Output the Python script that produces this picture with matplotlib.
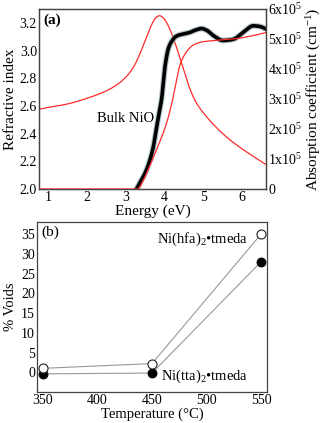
import numpy as np
import matplotlib
matplotlib.use('Agg')
import matplotlib.pyplot as plt

plt.rcParams['font.family'] = 'Liberation Serif'
plt.rcParams['mathtext.fontset'] = 'custom'
plt.rcParams['mathtext.rm'] = 'Liberation Serif'
plt.rcParams['mathtext.it'] = 'Liberation Serif:italic'

# (a) bulk NiO - measured absorption (thick black), right axis, 1e5 cm^-1
abs_meas_E = [3.27, 3.40, 3.53, 3.69, 3.81, 3.92, 4.01, 4.09, 4.14, 4.31, 4.65, 4.80, 4.95, 5.10, 5.25, 5.51, 5.77, 6.03, 6.29, 6.45, 6.63]
abs_meas_a = [0.0, 0.3, 0.64, 1.31, 2.2, 3.0, 4.1, 4.66, 4.83, 5.1, 5.22, 5.30, 5.35, 5.28, 5.12, 4.95, 4.99, 5.22, 5.44, 5.42, 5.33]

# refractive index (red), left axis
n_E = [0.75, 1.0, 1.5, 2.0, 2.5, 2.8, 3.02, 3.27, 3.45, 3.62, 3.75, 3.88, 4.01, 4.14, 4.31, 4.48, 4.70, 5.0, 5.5, 6.0, 6.6]
n_val = [2.576, 2.59, 2.615, 2.656, 2.71, 2.76, 2.815, 2.92, 3.04, 3.16, 3.23, 3.251, 3.22, 3.15, 3.02, 2.87, 2.69, 2.55, 2.40, 2.29, 2.18]

# modelled absorption (red), right axis, 1e5 cm^-1
abs_fit_E = [0.75, 3.3, 3.45, 3.57, 3.79, 4.05, 4.2, 4.3, 4.4, 4.55, 4.74, 4.95, 5.2, 5.5, 5.77, 6.2, 6.63]
abs_fit_a = [0.0, 0.0, 0.3, 0.64, 1.31, 2.2, 2.95, 3.6, 4.15, 4.55, 4.8, 4.9, 4.94, 4.97, 5.0, 5.09, 5.22]

# (b) voids vs temperature
temps = [350, 450, 550]
voids_hfa = [1.0, 2.2, 35.0]
voids_tta = [-0.4, -0.2, 28.0]


def pchip(x, y, n=400):
    # monotone cubic interpolation, just for drawing smooth curves
    x = np.asarray(x, float)
    y = np.asarray(y, float)
    h = np.diff(x)
    d = np.diff(y) / h
    m = np.zeros_like(y)
    for i in range(1, len(y) - 1):
        if d[i - 1] * d[i] > 0:
            w1 = 2 * h[i] + h[i - 1]
            w2 = h[i] + 2 * h[i - 1]
            m[i] = (w1 + w2) / (w1 / d[i - 1] + w2 / d[i])
    m[0] = d[0]
    m[-1] = d[-1]
    return hermite(x, y, m, n)


def spline(x, y, n=400):
    # natural cubic spline slopes
    x = np.asarray(x, float)
    y = np.asarray(y, float)
    N = len(x)
    h = np.diff(x)
    A = np.zeros((N, N))
    b = np.zeros(N)
    A[0, 0] = A[-1, -1] = 1
    for i in range(1, N - 1):
        A[i, i - 1] = h[i - 1]
        A[i, i] = 2 * (h[i - 1] + h[i])
        A[i, i + 1] = h[i]
        b[i] = 3 * ((y[i + 1] - y[i]) / h[i] - (y[i] - y[i - 1]) / h[i - 1])
    c = np.linalg.solve(A, b)
    m = np.zeros(N)
    for i in range(N - 1):
        m[i] = (y[i + 1] - y[i]) / h[i] - h[i] * (2 * c[i] + c[i + 1]) / 3
    m[-1] = (y[-1] - y[-2]) / h[-1] + h[-1] * (c[-2] + 2 * c[-1]) / 3
    return hermite(x, y, m, n)


def hermite(x, y, m, n):
    h = np.diff(x)
    xs = np.linspace(x[0], x[-1], n)
    k = np.clip(np.searchsorted(x, xs) - 1, 0, len(x) - 2)
    t = (xs - x[k]) / h[k]
    h00 = 2 * t**3 - 3 * t**2 + 1
    h10 = t**3 - 2 * t**2 + t
    h01 = -2 * t**3 + 3 * t**2
    h11 = t**3 - t**2
    ys = h00 * y[k] + h10 * h[k] * m[k] + h01 * y[k + 1] + h11 * h[k] * m[k + 1]
    return xs, ys


fig = plt.figure(figsize=(3.26, 4.23), dpi=100)

# ---- panel (a)
ax = fig.add_axes([0.1196, 0.5532, 0.6964, 0.4255])
ax2 = ax.twinx()

xs, ys = spline(n_E, n_val)
ax.plot(xs, ys, color='#ff2a2a', lw=0.9)
xs, ys = pchip(abs_fit_E, abs_fit_a)
ax2.plot(xs, ys * 1e5, color='#ff2a2a', lw=0.9, zorder=3)
xs, ys = pchip(abs_meas_E, abs_meas_a)
ax2.plot(xs, ys * 1e5, color='#7f9fa8', lw=4.2, alpha=0.6,
         solid_capstyle='round', zorder=1)
ax2.plot(xs, ys * 1e5, color='black', lw=2.6,
         solid_capstyle='round', zorder=2)

ax.set_xlim(0.75, 6.62)
ax.set_ylim(2.0, 3.3)
ax2.set_ylim(0, 6e5)
ax.set_xticks([1, 2, 3, 4, 5, 6])
ax.set_yticks([2.0, 2.2, 2.4, 2.6, 2.8, 3.0, 3.2])
ax.set_yticklabels(['2.0', '2.2', '2.4', '2.6', '2.8', '3.0', '3.2'])
ax2.set_yticks([0, 1e5, 2e5, 3e5, 4e5, 5e5, 6e5])
ax2.set_yticklabels(['0'] + [r'%dx10$^5$' % i for i in range(1, 7)])
for a in (ax, ax2):
    a.tick_params(length=0, labelsize=10, pad=1.5)
    for s in a.spines.values():
        s.set_color('#444444')
        s.set_linewidth(0.9)
ax.set_xlabel('Energy (eV)', fontsize=11, labelpad=0)
ax.set_ylabel('Refractive index', fontsize=11, labelpad=2)
ax2.set_ylabel(r'Absorption coefficient (cm$^{-1}$)', fontsize=11, labelpad=2)
ax.text(0.02, 0.94, '(a)', transform=ax.transAxes, fontsize=11, fontweight='bold', va='center')
ax.text(2.25, 2.51, 'Bulk NiO', fontsize=10.5, va='center')

# ---- panel (b)
bx = fig.add_axes([0.1135, 0.0733, 0.7055, 0.4019])
bx.plot(temps, voids_hfa, color='#999999', lw=0.8, zorder=1)
bx.plot(temps, voids_tta, color='#999999', lw=0.8, zorder=1)
bx.plot(temps, voids_hfa, 'o', ms=6.5, mfc='white', mec='#222222', mew=0.8, zorder=3)
bx.plot(temps, voids_tta, 'o', ms=6.5, mfc='black', mec='black', mew=0.6, zorder=2)

bx.set_xlim(344.5, 555.5)
bx.set_ylim(-5, 38.1)
bx.set_xticks([350, 400, 450, 500, 550])
bx.set_yticks([0, 5, 10, 15, 20, 25, 30, 35])
bx.tick_params(length=0, labelsize=10, pad=1.5)
for s in bx.spines.values():
    s.set_color('#444444')
    s.set_linewidth(0.9)
bx.set_xlabel('Temperature (°C)', fontsize=10.5, labelpad=0)
bx.set_ylabel('% Voids', fontsize=10.5, labelpad=3)
bx.text(0.02, 0.94, '(b)', transform=bx.transAxes, fontsize=11, va='center')
bx.text(538, 33.6, r'Ni(hfa)$_2$•tmeda', fontsize=10.5, ha='right', va='center')
bx.text(458, -1.1, r'Ni(tta)$_2$•tmeda', fontsize=10.5, ha='left', va='center')

fig.savefig('out.png', dpi=100)
